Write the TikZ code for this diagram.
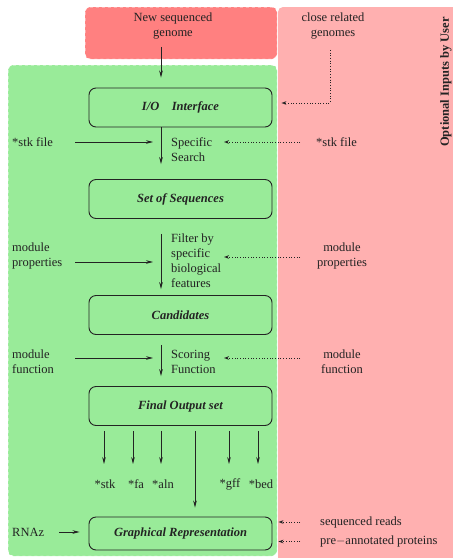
\documentclass[tikz,border=0pt]{standalone}
\usepackage{fontspec}
\setmainfont{Liberation Serif}
\usetikzlibrary{arrows.meta,positioning,calc}
\definecolor{inred}{RGB}{255,128,128}
\definecolor{optpink}{RGB}{255,176,176}
\definecolor{pipegreen}{RGB}{153,235,153}
\definecolor{txtdark}{RGB}{35,35,35}

\tikzset{
  stagebox/.style={draw=txtdark, line width=0.9pt, rounded corners=7pt,
    minimum width=183pt, minimum height=39pt, font=\bfseries\itshape, text=txtdark},
  lbl/.style={inner sep=0pt, text=txtdark, align=left},
  flow/.style={-{Stealth[length=7pt,width=3.6pt]}, line width=0.7pt, draw=txtdark},
  optflow/.style={-{Stealth[open,length=5pt,width=3.6pt]}, dotted, line width=0.7pt, draw=txtdark},
  area/.style={draw=white, dashed, line width=0.5pt, rounded corners=5pt}
}

\begin{document}
\fontsize{12.5}{15}\selectfont
\begin{tikzpicture}[x=1pt, y=-1pt]
\useasboundingbox (0,0) rectangle (453,558);

% backgrounds
\fill[optpink, rounded corners=5pt] (278,7) rectangle (470,580);
\draw[area, fill=pipegreen] (8,65) rectangle (277,556);
\draw[area, fill=inred] (85,7) rectangle (277,59);

% column helpers
\coordinate (spine) at (161,0);
\coordinate (lin) at (75,0);
\coordinate (lout) at (153,0);
\coordinate (rin) at (300,0);
\coordinate (rout) at (224,0);
\coordinate (bend) at (330,103);

% inputs
\node[lbl, align=center] (newgen) at (173,26.5) {New sequenced\\genome};
\node[lbl, align=center] (closegen) at (333,26.5) {close related\\genomes};
\node[lbl, font=\bfseries, rotate=90] (optlabel) at (446,82) {Optional Inputs by User};

% pipeline stages
\node[stagebox] (io) at (180.5,107.5) {I/O\quad Interface};
\node[stagebox] (seqs) at (180.5,199) {Set of Sequences};
\node[stagebox] (cands) at (180.5,315) {Candidates};
\node[stagebox] (final) at (180.5,406) {Final Output set};
\node[stagebox, minimum height=33pt] (graph) at (180.5,533.5) {Graphical Representation};

% step labels
\node[lbl, anchor=west] (search) at (171,149.5) {Specific\\Search};
\node[lbl, anchor=west] (filter) at (171,260.5) {Filter by\\specific\\biological\\features};
\node[lbl, anchor=west] (scoring) at (171,361.5) {Scoring\\Function};

% left inputs
\node[lbl, anchor=west] (stkL) at (12,142) {*stk file};
\node[lbl, anchor=west] (propL) at (12,255.5) {module\\properties};
\node[lbl, anchor=west] (funcL) at (12,361.5) {module\\function};
\node[lbl, anchor=west] (rnaz) at (12,532) {RNAz};

% right (optional) inputs
\node[lbl, anchor=west] (stkR) at (316,142) {*stk file};
\node[lbl, align=center] (propR) at (342,255.5) {module\\properties};
\node[lbl, align=center] (funcR) at (342,361.5) {module\\function};
\node[lbl, anchor=west] (reads) at (320,522) {sequenced reads};
\node[lbl, anchor=west] (prots) at (320,541.5) {pre$-$annotated proteins};

% main flow
\draw[flow] ($(newgen.south -| spine)+(0,7)$) -- ($(io.north -| spine)+(0,-10)$);
\draw[flow] (io.south -| spine) -- ($(seqs.north -| spine)+(0,-15)$);
\draw[flow] ($(seqs.south -| spine)+(0,15)$) -- ($(cands.north -| spine)+(0,-6)$);
\draw[flow] ($(cands.south -| spine)+(0,10)$) -- ($(final.north -| spine)+(0,-10)$);

% left arrows
\draw[flow] (lin |- stkL.west) -- (lout |- stkL.west);
\draw[flow] ($(lin |- propL)+(0,6.5)$) -- ($(lout |- propL)+(0,6.5)$);
\draw[flow] ($(lin |- funcL)+(0,-3.5)$) -- ($(lout |- funcL)+(0,-3.5)$);
\draw[flow, shorten <=15pt, shorten >=9pt] (rnaz.east) -- (graph.west |- rnaz);

% optional arrows
\draw[optflow] ($(closegen.south -| bend)+(0,10)$) -- (bend) -- ($(io.east |- bend)+(9,0)$);
\draw[optflow] (rin |- stkR.west) -- (rout |- stkR.west);
\draw[optflow] ($(rin |- propR)+(0,1.5)$) -- ($(rout |- propR)+(0,1.5)$);
\draw[optflow] ($(rin |- funcR)+(0,-3.5)$) -- ($(rout |- funcR)+(0,-3.5)$);
\draw[optflow] ($(reads.west)+(-20,0)$) -- ($(graph.east |- reads)+(6,0)$);
\draw[optflow] ($(prots.west)+(-20,0)$) -- ($(graph.east |- prots)+(6,0)$);

% output formats
\foreach \ax/\lx/\nm/\txt in {104/105/stk/*stk, 133/136/fa/*fa, 161/163/aln/*aln, 229/230/gff/*gff, 258/261/bed/*bed} {
  \node[lbl] (out\nm) at (\lx,484) {\txt};
  \coordinate (tip\nm) at (\ax,464);
  \draw[flow] ($(final.south -| tip\nm)+(0,5)$) -- (tip\nm);
}
\draw[flow] ($(final.south)+(14.5,5)$) -- ($(graph.north)+(14.5,-9)$);
\end{tikzpicture}
\end{document}
